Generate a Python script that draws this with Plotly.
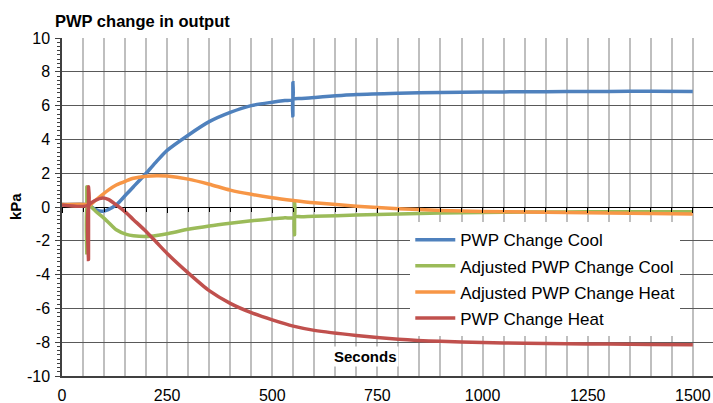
import plotly.graph_objects as go

# ---- data (seconds, kPa) ----
t_cool = [0, 60, 65, 80, 97, 110, 129, 153, 170, 200, 225, 250, 300, 350, 400, 450, 500, 530, 548, 549, 549, 550, 570,
          600, 700, 800, 900, 1000, 1100, 1200, 1300, 1400, 1500]
pwp_cool = [0.15, 0.15, 0.1, -0.15, -0.25, -0.15, 0.12, 0.75, 1.2, 2.0, 2.7, 3.35, 4.25, 5.05, 5.6, 6.0, 6.2, 6.3, 6.35, 7.35, 5.4, 6.37, 6.42,
            6.48, 6.65, 6.73, 6.78, 6.8, 6.82, 6.83, 6.84, 6.85, 6.84]

t_adj_cool = [0, 58, 59, 59, 60, 65, 80, 97, 110, 129, 153, 170, 200, 225, 250, 300, 350, 400, 450, 500, 530, 552, 553, 553, 554, 575,
              600, 700, 800, 900, 1000, 1100, 1200, 1300, 1400, 1500]
adj_cool = [0.15, 0.15, 1.2, -2.7, 0.15, 0.1, -0.25, -0.6, -0.9, -1.35, -1.62, -1.7, -1.74, -1.68, -1.58, -1.32, -1.12, -0.96, -0.82, -0.69, -0.64, -0.61, 0.33, -1.64, -0.6, -0.58,
            -0.55, -0.48, -0.42, -0.36, -0.32, -0.3, -0.29, -0.28, -0.28, -0.28]

t_adj_heat = [0, 60, 65, 80, 97, 110, 129, 153, 170, 200, 225, 250, 300, 350, 400, 450, 500, 550,
              600, 700, 800, 900, 1000, 1100, 1200, 1300, 1400, 1500]
adj_heat = [0.15, 0.15, 0.1, 0.4, 0.75, 1.0, 1.3, 1.55, 1.7, 1.82, 1.85, 1.83, 1.65, 1.35, 1.0, 0.75, 0.55, 0.39,
            0.25, 0.05, -0.1, -0.2, -0.26, -0.3, -0.33, -0.36, -0.38, -0.41]

t_heat = [0, 62, 63, 63, 64, 80, 97, 110, 129, 153, 170, 200, 225, 250, 300, 350, 400, 450, 500, 550,
          600, 700, 800, 900, 1000, 1100, 1200, 1300, 1400, 1500]
pwp_heat = [0.12, 0.12, 1.2, -3.1, 0.1, 0.4, 0.53, 0.45, 0.12, -0.35, -0.75, -1.45, -2.1, -2.75, -3.9, -4.95, -5.7, -6.25, -6.68, -7.05,
            -7.3, -7.6, -7.82, -7.95, -8.02, -8.06, -8.09, -8.11, -8.13, -8.15]

series = [
    ("PWP Change Cool", t_cool, pwp_cool, "#4F81BD"),
    ("Adjusted PWP Change Cool", t_adj_cool, adj_cool, "#9BBB59"),
    ("Adjusted PWP Change Heat", t_adj_heat, adj_heat, "#F79646"),
    ("PWP Change Heat", t_heat, pwp_heat, "#C0504D"),
]

y_ticks = [-10, -8, -6, -4, -2, 0, 2, 4, 6, 8, 10]
y_labels = ["-10", "-8", "-6", "-4", "-2", "0", "2", "4", "6", "8", "10"]
x_ticks = [0, 250, 500, 750, 1000, 1250, 1500]
x_labels = ["0", "250", "500", "750", "1000", "1250", "1500"]

FONT = "Liberation Sans, Arial, sans-serif"

fig = go.Figure()
for i, (name, t, v, c) in enumerate(series):
    fig.add_trace(go.Scatter(x=t, y=v, mode="lines", name=name, legendgroup=f"g{i}",
                             line=dict(color=c, width=3.5, shape="spline", smoothing=0.7)))

# invisible trace on secondary x-axis: draws the tick marks along the zero line
fig.add_trace(go.Scatter(x=[0], y=[0], xaxis="x2", mode="markers", marker=dict(opacity=0),
                         showlegend=False, hoverinfo="skip"))

fig.update_layout(
    width=713, height=403,
    margin=dict(l=62, r=0, t=38, b=27, autoexpand=False),
    paper_bgcolor="white", plot_bgcolor="white",
    font=dict(family=FONT, color="black", size=16),
    title=dict(text="<b>PWP change in output</b>", x=55 / 713, xanchor="left", xref="container",
               y=1 - 21 / 403, yanchor="middle", yref="container",
               font=dict(size=16.5, family=FONT, color="black")),
    xaxis=dict(range=[0, 1548], tickvals=x_ticks, ticktext=x_labels, showgrid=True,
               gridcolor="#BFBFBF", gridwidth=2, zeroline=False, automargin=False,
               minor=dict(dtick=50, tick0=0, showgrid=True, gridcolor="#BFBFBF", gridwidth=2),
               showline=True, linecolor="#404040", linewidth=1.5, ticks="",
               ticklabelstandoff=4, tickfont=dict(size=16)),
    xaxis2=dict(range=[0, 1548], overlaying="x", anchor="free", position=0.5, side="bottom",
                showticklabels=False, showgrid=False, zeroline=False, showline=False, automargin=False,
                tickvals=x_ticks, ticks="outside", ticklen=5, tickcolor="black", tickwidth=1,
                minor=dict(dtick=50, tick0=0, ticks="outside", ticklen=4, tickcolor="black", tickwidth=1)),
    yaxis=dict(range=[-10, 10], tickvals=y_ticks, ticktext=y_labels, showgrid=True,
               gridcolor="#595959", gridwidth=1, automargin=False,
               zeroline=True, zerolinecolor="black", zerolinewidth=1.2,
               showline=True, linecolor="#404040", linewidth=1.5,
               ticks="outside", ticklen=5, tickcolor="#404040",
               minor=dict(dtick=0.25, tick0=0, ticks="outside", ticklen=3, tickcolor="#404040", showgrid=False),
               ticklabelstandoff=2, tickfont=dict(size=16)),
    legend=dict(x=0.535, y=0.455, xanchor="left", yanchor="top", bgcolor="white",
                font=dict(size=17, family=FONT), traceorder="grouped", tracegroupgap=1,
                itemwidth=40),
    showlegend=True,
    annotations=[
        dict(text="<b>kPa</b>", xref="paper", yref="paper", x=-47 / 651, y=0.5, textangle=-90,
             showarrow=False, font=dict(size=15, family=FONT), xanchor="center", yanchor="middle"),
        dict(text="<b>Seconds</b>", xref="paper", yref="paper", x=(365 - 62) / 651, y=(376 - 356) / 338,
             showarrow=False, font=dict(size=15, family=FONT), xanchor="center", yanchor="middle",
             bgcolor="white"),
    ],
)

fig.write_html("out.html")
